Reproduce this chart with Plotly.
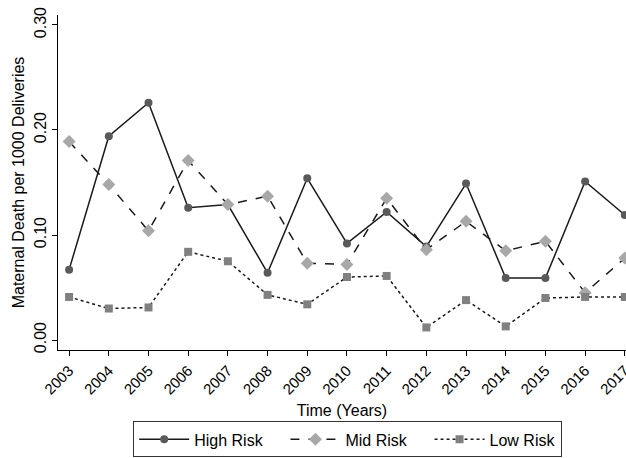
import plotly.graph_objects as go

years = list(range(2003, 2018))
high_risk = [0.067, 0.194, 0.226, 0.126, 0.129, 0.064, 0.154, 0.092, 0.122, 0.089, 0.149, 0.059, 0.059, 0.151, 0.119]
mid_risk = [0.189, 0.148, 0.104, 0.171, 0.129, 0.137, 0.073, 0.072, 0.135, 0.086, 0.113, 0.085, 0.094, 0.045, 0.078]
low_risk = [0.041, 0.030, 0.031, 0.084, 0.075, 0.043, 0.034, 0.060, 0.061, 0.012, 0.038, 0.013, 0.040, 0.041, 0.041]
y_ticks = [0.0, 0.1, 0.2, 0.3]
y_tick_labels = ["0.00", "0.10", "0.20", "0.30"]

font = "Liberation Sans, Arial, sans-serif"
pad = "\u00a0" * 4

fig = go.Figure()
fig.add_trace(go.Scatter(x=years, y=high_risk, name="High Risk" + pad, mode="lines+markers",
                         line=dict(color="#1a1a1a", width=1.5, dash="solid"),
                         marker=dict(symbol="circle", size=8, color="#5a5a5a"),
                         cliponaxis=False))
fig.add_trace(go.Scatter(x=years, y=mid_risk, name="Mid Risk" + pad, mode="lines+markers",
                         line=dict(color="#1a1a1a", width=1.5, dash="dash"),
                         marker=dict(symbol="diamond", size=10, color="#a8a8a8"),
                         cliponaxis=False))
fig.add_trace(go.Scatter(x=years, y=low_risk, name="Low Risk", mode="lines+markers",
                         line=dict(color="#1a1a1a", width=1.5, dash="dot"),
                         marker=dict(symbol="square", size=8, color="#808080"),
                         cliponaxis=False))

fig.update_layout(
    width=626, height=458,
    margin=dict(l=58, r=0, t=15, b=108, autoexpand=False),
    paper_bgcolor="white", plot_bgcolor="white",
    font=dict(family=font, size=16, color="black"),
    showlegend=True,
    legend=dict(orientation="h", x=0.51, xanchor="center", y=-0.213, yanchor="top",
                bordercolor="#333", borderwidth=1, font=dict(size=16),
                itemwidth=50, traceorder="normal"),
    xaxis=dict(range=[2002.72, 2017.03], tickmode="array", tickvals=years,
               ticktext=[str(y) for y in years], tickangle=-45,
               ticklabeloverflow="allow", automargin=False,
               showline=True, linecolor="black", linewidth=1.2,
               ticks="outside", ticklen=5, tickcolor="black",
               showgrid=False, zeroline=False,
               tickfont=dict(size=15),
               title=dict(text="Time (Years)", font=dict(size=16), standoff=8)),
    yaxis=dict(range=[-0.0095, 0.3095], tickmode="array", tickvals=y_ticks,
               ticktext=y_tick_labels, tickangle=-90, automargin=False,
               showline=True, linecolor="black", linewidth=1.2,
               ticks="outside", ticklen=5, tickcolor="black",
               showgrid=False, zeroline=False,
               tickfont=dict(size=16),
               title=dict(text="Maternal Death per 1000 Deliveries", font=dict(size=16), standoff=2)),
)

fig.write_html("out.html")
